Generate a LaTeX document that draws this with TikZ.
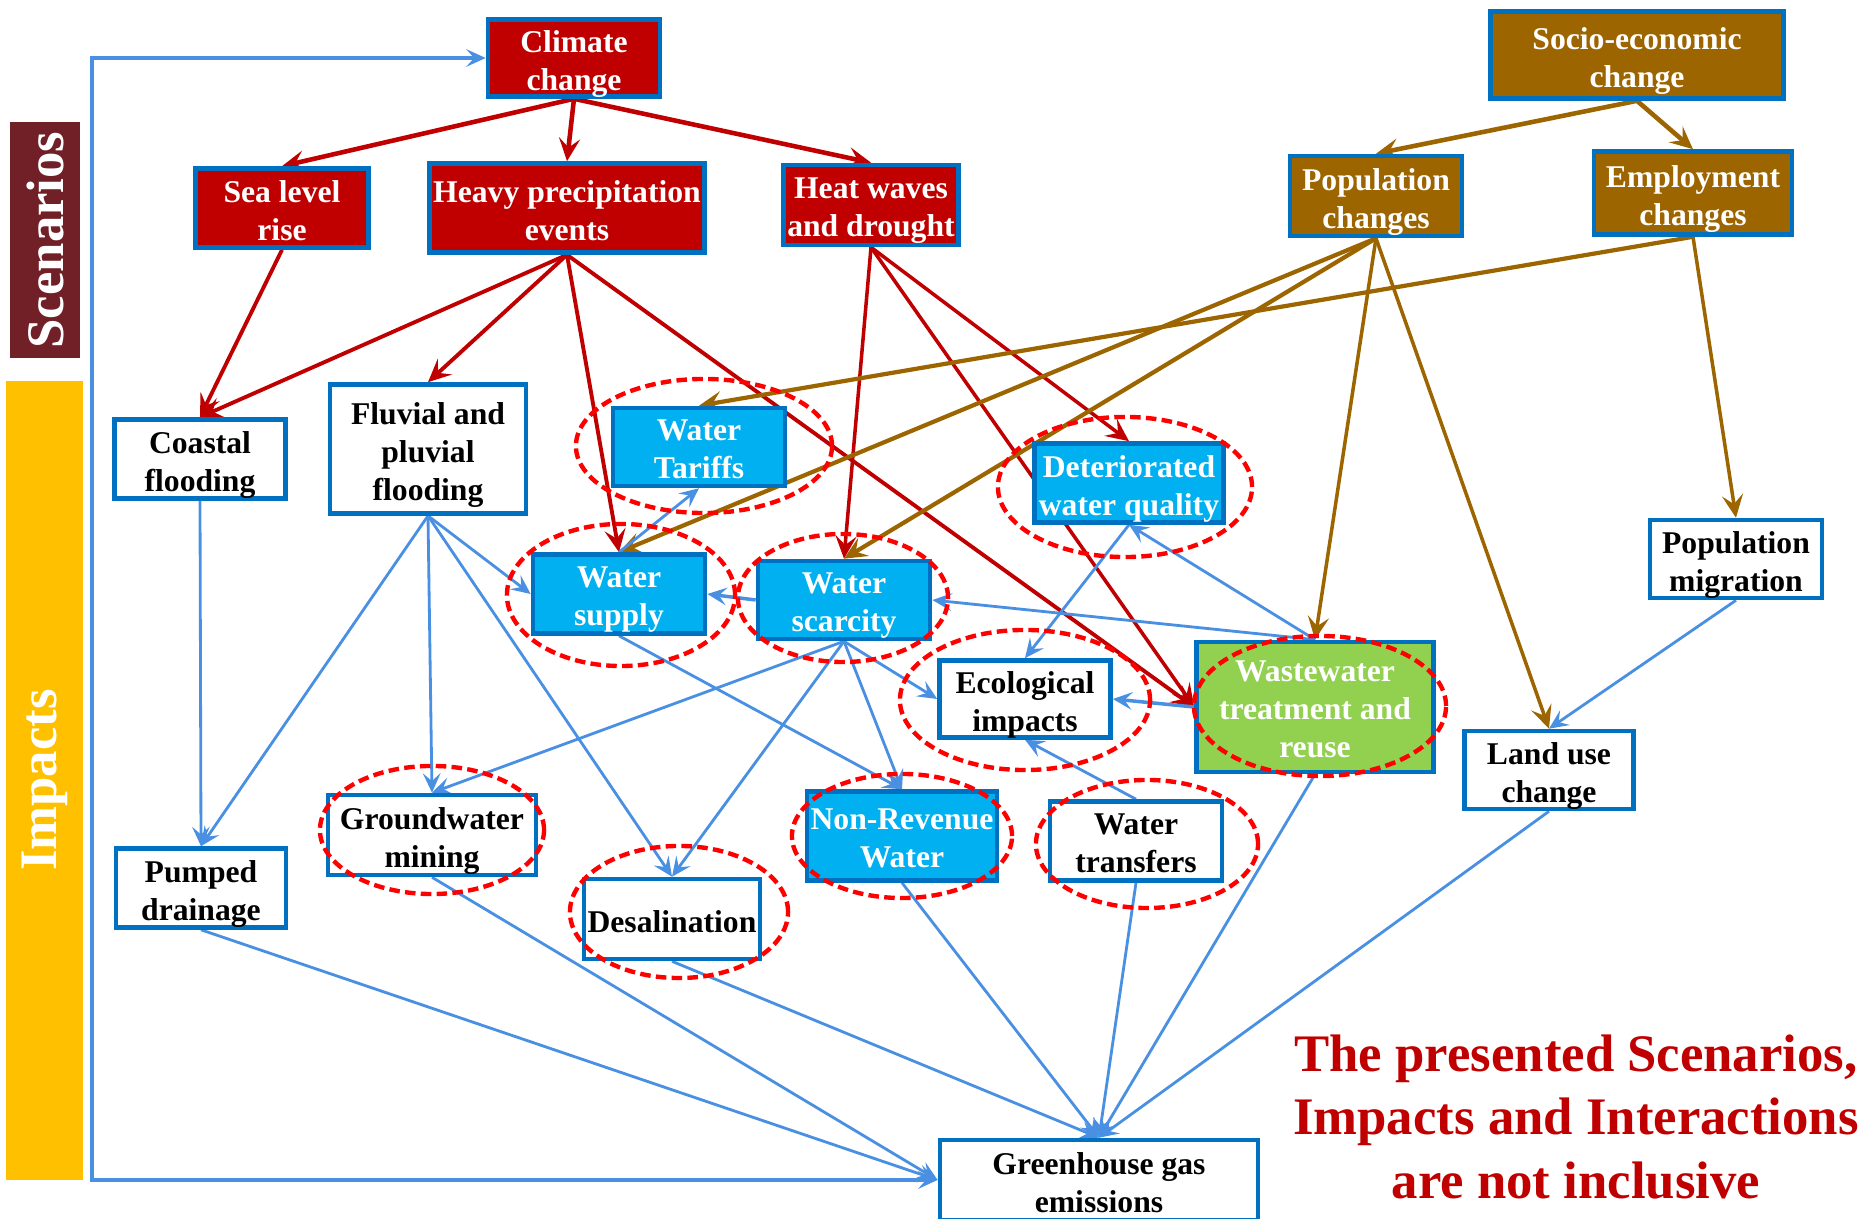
\documentclass[tikz,border=0pt]{standalone}
\usepackage{fontspec}
\setmainfont{Liberation Serif}
\usetikzlibrary{arrows.meta,backgrounds}
\definecolor{boxblue}{RGB}{0,112,192}
\definecolor{scred}{RGB}{192,0,0}
\definecolor{sebrown}{RGB}{156,101,0}
\definecolor{wblue}{RGB}{0,176,240}
\definecolor{wgreen}{RGB}{146,208,80}
\definecolor{lnblue}{RGB}{74,144,226}
\definecolor{scenbar}{RGB}{112,32,38}
\definecolor{impbar}{RGB}{255,192,0}

\begin{document}
\begin{tikzpicture}[x=0.01cm, y=-0.01cm,
  box/.style={draw=boxblue, line width=1.3pt, align=center, inner sep=1pt,
    font=\fontsize{9}{10.8}\selectfont\bfseries, text depth=0pt,
    execute at begin node={\lower1.4pt\hbox\bgroup},
    execute at end node={\egroup}},
  scenbox/.style={box, fill=scred, text=white},
  secbox/.style={box, fill=sebrown, text=white},
  impbox/.style={box, fill=white},
  keybox/.style={box, fill=wblue, text=white},
  ring/.style={draw=red, line width=1.25pt, dash pattern=on 3pt off 1.5pt},
  redarr/.style={-{Stealth[length=6.5pt, width=6pt, inset=2.6pt]}, draw=scred, line width=1pt},
  brnarr/.style={-{Stealth[length=6.5pt, width=6pt, inset=2.6pt]}, draw=sebrown, line width=1pt},
  bluarr/.style={-{Stealth[length=5.5pt, width=5pt, inset=2.2pt]}, draw=lnblue, line width=0.8pt},
  bartext/.style={rotate=90, text=white, font=\fontsize{15}{18}\selectfont\bfseries}
]
\useasboundingbox (0,0) rectangle (1868,1219);

% Side bars
\fill[scenbar] (10,122) rectangle (80,358);
\fill[impbar] (6,381) rectangle (83,1180);
\node[bartext] (scen) at (45,240) {Scenarios};
\node[bartext] (imp) at (45,780) {Impacts};

% Scenarios
\node[scenbox, minimum width=1.72cm, minimum height=0.77cm] (cc) at (574,58) {Climate\\change};
\node[secbox, minimum width=2.93cm, minimum height=0.87cm] (socio) at (1637,55) {Socio-economic\\change};
\node[scenbox, minimum width=1.73cm, minimum height=0.79cm] (slr) at (282,208) {Sea level\\rise};
\node[scenbox, minimum width=2.73cm, minimum height=0.89cm] (hpe) at (567,208) {Heavy precipitation\\events};
\node[scenbox, minimum width=1.73cm, minimum height=0.80cm] (hwd) at (871,205) {Heat waves\\and drought};
\node[secbox, minimum width=1.72cm, minimum height=0.80cm] (popc) at (1376,196) {Population\\changes};
\node[secbox, minimum width=1.98cm, minimum height=0.83cm] (empc) at (1693,193) {Employment\\changes};

% Impacts
\node[impbox, minimum width=1.71cm, minimum height=0.79cm] (coast) at (200,459) {Coastal\\flooding};
\node[impbox, minimum width=1.96cm, minimum height=1.29cm] (fluv) at (428,449) {Fluvial and\\pluvial\\flooding};
\node[keybox, minimum width=1.72cm, minimum height=0.78cm] (tariff) at (699,447) {Water\\Tariffs};
\node[keybox, minimum width=1.72cm, minimum height=0.79cm] (supply) at (619,594) {Water\\supply};
\node[keybox, minimum width=1.72cm, minimum height=0.78cm] (scarc) at (844,600) {Water\\scarcity};
\node[keybox, minimum width=1.89cm, minimum height=0.79cm] (detwq) at (1129,483) {Deteriorated\\water quality};
\node[impbox, minimum width=1.71cm, minimum height=0.77cm] (eco) at (1025,699) {Ecological\\impacts};
\node[box, fill=wgreen, text=white, minimum width=2.37cm, minimum height=1.30cm] (wwtr) at (1315,707) {Wastewater\\treatment and\\reuse};
\node[impbox, minimum width=1.72cm, minimum height=0.78cm] (popm) at (1736,559) {Population\\migration};
\node[impbox, minimum width=1.69cm, minimum height=0.78cm] (land) at (1549,770) {Land use\\change};
\node[impbox, minimum width=1.70cm, minimum height=0.79cm] (pump) at (201,888) {Pumped\\drainage};
\node[impbox, minimum width=2.08cm, minimum height=0.80cm] (gwm) at (432,835) {Groundwater\\mining};
\node[impbox, minimum width=1.71cm, minimum height=0.80cm] (desal) at (672,919) {Desalination};
\node[keybox, minimum width=1.89cm, minimum height=0.89cm] (nrw) at (902,836) {Non-Revenue\\Water};
\node[impbox, minimum width=1.72cm, minimum height=0.79cm] (wtrans) at (1136,841) {Water\\transfers};
\node[impbox, minimum width=3.18cm, minimum height=0.80cm] (ghg) at (1099,1180) {Greenhouse gas\\emissions};

\begin{pgfonlayer}{background}
%Climate links
\draw[redarr, line width=1.3pt] (cc.south) -- (slr.north);
\draw[redarr, line width=1.3pt] (cc.south) -- (hpe.north);
\draw[redarr, line width=1.3pt] (cc.south) -- (hwd.north);
\draw[redarr, line width=1.1pt] (slr.south) -- (coast.north);
\draw[redarr, line width=1.1pt] (hpe.south) -- (coast.north);
\draw[redarr, line width=1.1pt] (hpe.south) -- (fluv.north);
\draw[redarr, line width=1.1pt] (hpe.south) -- (supply.north);
\draw[redarr, line width=1.1pt] (hpe.south) -- (wwtr.west);
\draw[redarr] (hwd.south) -- (scarc.north);
\draw[redarr] (hwd.south) -- (detwq.north);
\draw[redarr] (hwd.south) -- (wwtr.west);

%Socio-economic links
\draw[brnarr, line width=1.3pt] (socio.south) -- (popc.north);
\draw[brnarr, line width=1.3pt] (socio.south) -- (empc.north);
\draw[brnarr, line width=1.2pt] (popc.south) -- (supply.north);
\draw[brnarr, line width=1.2pt] (popc.south) -- (scarc.north);
\draw[brnarr] (popc.south) -- (wwtr.north);
\draw[brnarr] (popc.south) -- (land.north);
\draw[brnarr, line width=1.2pt] (empc.south) -- (tariff.north);
\draw[brnarr] (empc.south) -- (popm.north);

%Impact links
\draw[bluarr] (coast.south) -- (pump.north);
\draw[bluarr] (fluv.south) -- (pump.north);
\draw[bluarr] (fluv.south) -- (gwm.north);
\draw[bluarr] (fluv.south) -- (supply.west);
\draw[bluarr] (fluv.south) -- (desal.north);
\draw[bluarr, line width=1pt] (scarc.west) -- (supply.east);
\draw[bluarr] (supply.north) -- (tariff.south);
\draw[bluarr] (supply.south) -- (nrw.north);
\draw[bluarr] (scarc.south) -- (gwm.north);
\draw[bluarr] (scarc.south) -- (desal.north);
\draw[bluarr] (scarc.south) -- (nrw.north);
\draw[bluarr] (scarc.south) -- (eco.west);
\draw[bluarr] (wwtr.north) -- (scarc.east);
\draw[bluarr] (wwtr.north) -- (detwq.south);
\draw[bluarr] (detwq.south) -- (eco.north);
\draw[bluarr, line width=1pt] (wwtr.west) -- (eco.east);
\draw[bluarr] (wtrans.north) -- (eco.south);
\draw[bluarr] (popm.south) -- (land.north);

% Emissions
\draw[bluarr] (pump.south) -- (ghg.west);
\draw[bluarr] (gwm.south) -- (ghg.west);
\draw[bluarr] (desal.south) -- (ghg.north);
\draw[bluarr] (nrw.south) -- (ghg.north);
\draw[bluarr] (wtrans.south) -- (ghg.north);
\draw[bluarr] (wwtr.south) -- (ghg.north);
\draw[bluarr] (land.south) -- (ghg.north);

% Feedback frame
\coordinate (lft) at (92,600);
\draw[bluarr, {Stealth[length=5.5pt, width=5pt, inset=2.2pt]}-{Stealth[length=5.5pt, width=5pt, inset=2.2pt]}, line width=1pt] (cc.west) -| (lft) |- (ghg.west);
\end{pgfonlayer}

% Key impacts
\draw[ring] (704,446) ellipse [x radius=1.28cm, y radius=0.67cm];
\draw[ring] (621,595) ellipse [x radius=1.14cm, y radius=0.71cm];
\draw[ring] (843,598) ellipse [x radius=1.05cm, y radius=0.64cm];
\draw[ring] (1125,487) ellipse [x radius=1.27cm, y radius=0.70cm];
\draw[ring] (1025,700) ellipse [x radius=1.25cm, y radius=0.70cm];
\draw[ring] (1320,706) ellipse [x radius=1.26cm, y radius=0.70cm];
\draw[ring] (432,830) ellipse [x radius=1.12cm, y radius=0.64cm];
\draw[ring] (679,912) ellipse [x radius=1.09cm, y radius=0.66cm];
\draw[ring] (902,836) ellipse [x radius=1.10cm, y radius=0.62cm];
\draw[ring] (1147,844) ellipse [x radius=1.11cm, y radius=0.64cm];

\node[text=scred, align=center, font=\fontsize{15}{18}\selectfont\bfseries] (note) at (1576,1117) {The presented Scenarios,\\Impacts and Interactions\\are not inclusive};
\end{tikzpicture}
\end{document}
